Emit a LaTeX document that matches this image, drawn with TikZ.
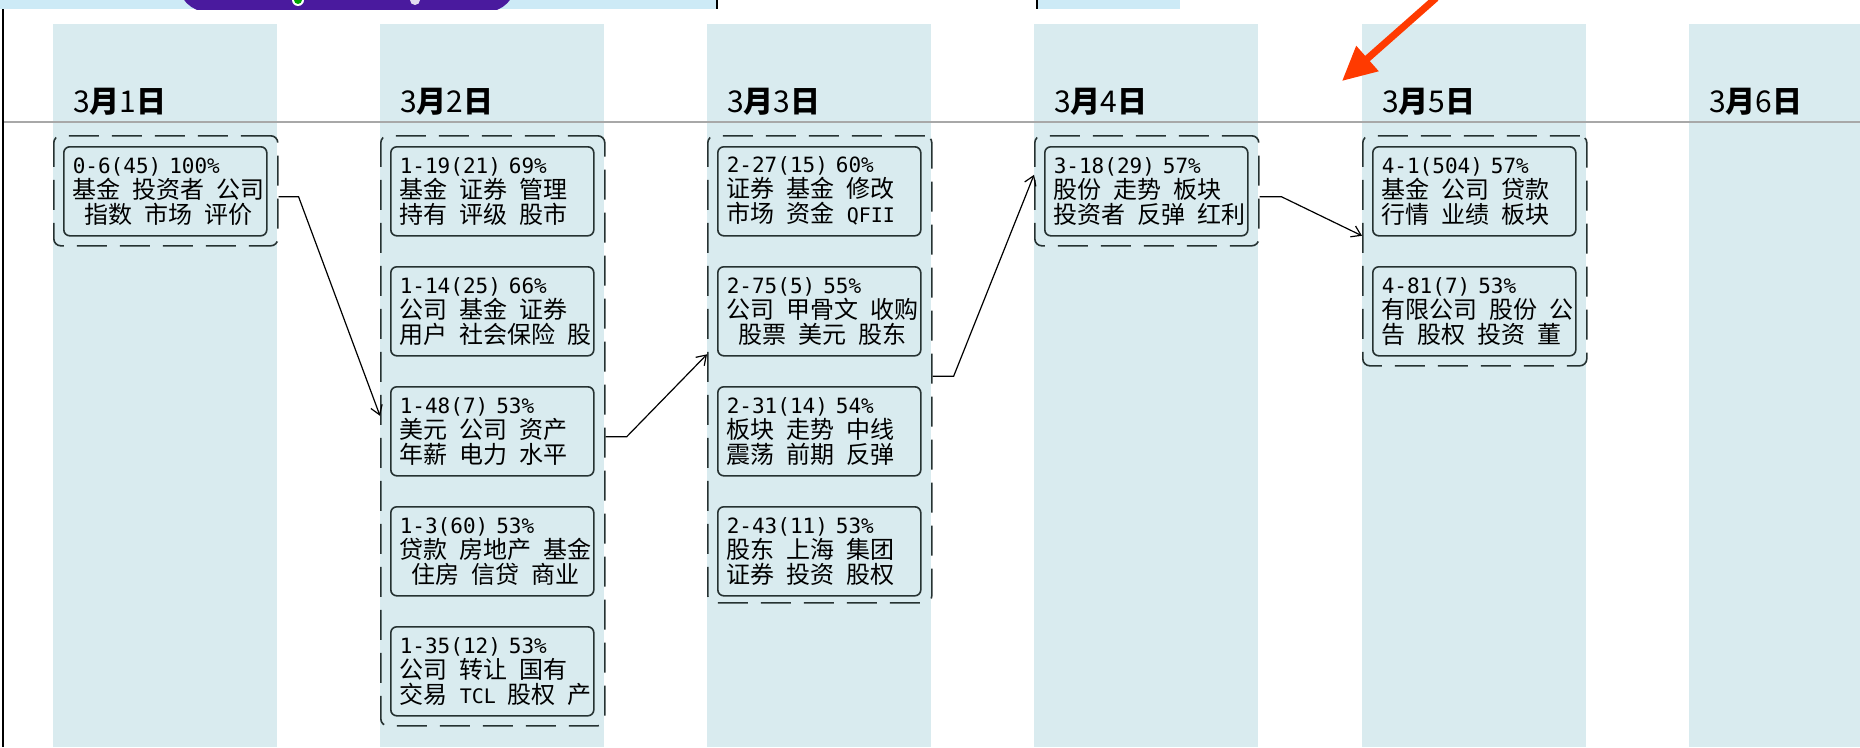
\documentclass[tikz,border=0pt]{standalone}
\usepackage{fontspec}
\newfontfamily\cjk{Noto Sans CJK SC}
\newfontfamily\monof{DejaVu Sans Mono}
\usetikzlibrary{arrows.meta,calc}
\definecolor{colbg}{HTML}{D9EBEF}
\definecolor{boxline}{HTML}{263232}
\definecolor{stripbg}{HTML}{CDEAF6}
\definecolor{purp}{HTML}{4A1A9E}
\definecolor{redarrow}{HTML}{FF3A00}
\definecolor{rulegray}{HTML}{A8A8A8}
\newcommand\gp{\makebox[12pt]{}}
\newcommand\hd[1]{{\monof\fontsize{21pt}{25pt}\selectfont #1}}
\newcommand\lt[1]{{\monof\fontsize{20pt}{25pt}\selectfont #1}}
\tikzset{
  topic/.style={draw=boxline, line width=1.6pt, rounded corners=6pt,
    minimum height=89pt, text width=185pt, inner xsep=9pt, inner ysep=0pt,
    align=left, anchor=north west, font=\cjk\fontsize{24pt}{25pt}\selectfont},
  grp/.style={draw=boxline, line width=1.6pt, dash pattern=on 30pt off 13pt,
    rounded corners=7pt, minimum width=224pt, anchor=north west, inner sep=0pt},
  conn/.style={draw=black, line width=1.2pt, -{Straight Barb[length=9pt,width=12pt]}},
  datel/.style={anchor=base west, inner sep=0pt, font=\cjk\fontsize{30pt}{30pt}\selectfont},
  colband/.style={fill=colbg}
}
\begin{document}
\begin{tikzpicture}[x=1pt,y=-1pt]
\useasboundingbox (0,0) rectangle (1860,747);
\fill[white] (0,0) rectangle (1860,747);
% top strip (cut-off screenshot part)
\fill[stripbg] (0,0) rectangle (1180,9);
\begin{scope}
  \clip (0,0) rectangle (1180,9);
  \fill[purp, rounded corners=30pt] (178,-40) rectangle (516,12);
  \fill[white] (298,0) circle (6);
  \fill[green!65!black] (298,0) circle (4);
  \fill[white!85!purp] (415,0) circle (5);
  \fill[white] (717,-2) rectangle (1037,9);
  \draw[black, line width=1.2pt] (717,-2) -- (717,9) (1037,-2) -- (1037,9);
\end{scope}
% columns
\foreach \cx in {53,380,707,1034,1362} {\fill[colband] (\cx,24) rectangle ++(224,723);}
\fill[colband] (1689,24) rectangle (1860,747);
% rule and left border
\draw[rulegray, line width=1.6pt] (3,122) -- (1860,122);
\draw[black, line width=2pt] (3,9) -- (3,747);
% dates
\node[datel] (d1) at (73,112) {3{\bfseries 月}1{\bfseries 日}};
\node[datel] (d2) at (400,112) {3{\bfseries 月}2{\bfseries 日}};
\node[datel] (d3) at (727,112) {3{\bfseries 月}3{\bfseries 日}};
\node[datel] (d4) at (1054,112) {3{\bfseries 月}4{\bfseries 日}};
\node[datel] (d5) at (1382,112) {3{\bfseries 月}5{\bfseries 日}};
\node[datel] (d6) at (1709,112) {3{\bfseries 月}6{\bfseries 日}};
% groups
\node[grp, minimum height=110pt] (g1) at (53,135) {};
\node[grp, minimum height=590pt] (g2) at (380,135) {};
\node[grp, minimum height=467pt] (g3) at (707,135) {};
\node[grp, minimum height=110pt] (g4) at (1034,135) {};
\node[grp, minimum height=230pt] (g5) at (1362,135) {};
% topics
\node[topic] (b06) at (63,146) {\hd{0-6(45) 100\%}\\基金\gp 投资者\gp 公司\\\gp 指数\gp 市场\gp 评价};
\node[topic] (b119) at (390,146) {\hd{1-19(21) 69\%}\\基金\gp 证券\gp 管理\\持有\gp 评级\gp 股市};
\node[topic] (b114) at (390,266) {\hd{1-14(25) 66\%}\\公司\gp 基金\gp 证券\\用户\gp 社会保险\gp 股};
\node[topic] (b148) at (390,386) {\hd{1-48(7) 53\%}\\美元\gp 公司\gp 资产\\年薪\gp 电力\gp 水平};
\node[topic] (b13) at (390,506) {\hd{1-3(60) 53\%}\\贷款\gp 房地产\gp 基金\\\gp 住房\gp 信贷\gp 商业};
\node[topic] (b135) at (390,626) {\hd{1-35(12) 53\%}\\公司\gp 转让\gp 国有\\交易\gp\lt{TCL}\gp 股权\gp 产};
\node[topic] (b227) at (717,146) {\hd{2-27(15) 60\%}\\证券\gp 基金\gp 修改\\市场\gp 资金\gp\lt{QFII}};
\node[topic] (b275) at (717,266) {\hd{2-75(5) 55\%}\\公司\gp 甲骨文\gp 收购\\\gp 股票\gp 美元\gp 股东};
\node[topic] (b231) at (717,386) {\hd{2-31(14) 54\%}\\板块\gp 走势\gp 中线\\震荡\gp 前期\gp 反弹};
\node[topic] (b243) at (717,506) {\hd{2-43(11) 53\%}\\股东\gp 上海\gp 集团\\证券\gp 投资\gp 股权};
\node[topic] (b318) at (1044,146) {\hd{3-18(29) 57\%}\\股份\gp 走势\gp 板块\\投资者\gp 反弹\gp 红利};
\node[topic] (b41) at (1372,146) {\hd{4-1(504) 57\%}\\基金\gp 公司\gp 贷款\\行情\gp 业绩\gp 板块};
\node[topic] (b481) at (1372,266) {\hd{4-81(7) 53\%}\\有限公司\gp 股份\gp 公\\告\gp 股权\gp 投资\gp 董};
% connectors
\draw[conn] ($(g1.east)+(0,6)$) -- ++(20,0) -- ($(g2.west)+(0,-15)$);
\draw[conn] ($(g2.east)+(0,6)$) -- ++(21,0) -- ($(g3.west)+(0,-15)$);
\draw[conn] ($(g3.east)+(0,7)$) -- ++(21,0) -- ($(g4.west)+(0,-16)$);
\draw[conn] ($(g4.east)+(0,6)$) -- ++(22,0) -- ($(g5.west)+(0,-15)$);
% red annotation arrow
\coordinate (ra) at (1436,-2);
\coordinate (rb) at (1342,81);
\draw[redarrow, line width=7pt, -{Triangle[length=34pt,width=32pt]}] (ra) -- (rb);
\end{tikzpicture}
\end{document}
